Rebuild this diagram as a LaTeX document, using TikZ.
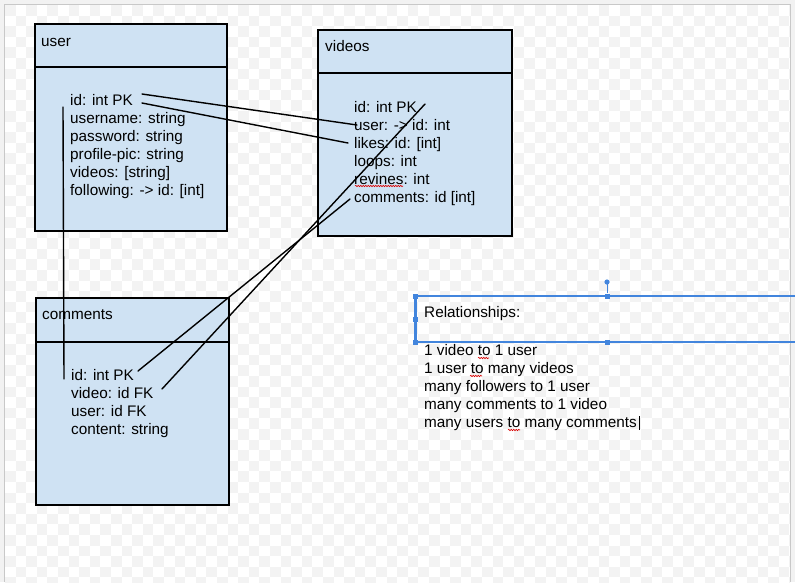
\documentclass[tikz,border=0pt]{standalone}
\usepackage{fontspec}
\setmainfont{Liberation Sans}
\usetikzlibrary{calc,decorations.pathmorphing}
\definecolor{boxblue}{RGB}{207,226,243}
\definecolor{selblue}{RGB}{66,133,221}
\definecolor{checkgrey}{RGB}{243,243,243}
\definecolor{outgrey}{RGB}{242,242,242}
\definecolor{framegrey}{RGB}{200,200,200}
\begin{document}
\begin{tikzpicture}[x=1pt,y=-1pt,
  tbl/.style={draw=black, line width=1.8pt, fill=boxblue, inner sep=0pt, anchor=north west},
  divline/.style={line width=1.8pt},
  fld/.style={anchor=base west, inner sep=0pt, font=\fontsize{15.3}{18}\selectfont},
  conn/.style={line width=1.4pt, line cap=round},
  sel/.style={draw=selblue, line width=2pt},
  handle/.style={fill=selblue, draw=none, minimum size=5pt, inner sep=0pt, rectangle},
  squig/.style={draw=red!85!black, line width=0.6pt, decorate, decoration={snake, amplitude=0.7pt, segment length=2.5pt}}]
\useasboundingbox (0,0) rectangle (795,582);
% page background
\fill[outgrey] (0,0) rectangle (795,582);
\fill[white] (5,5) rectangle (790,582);
\begin{scope}
  \clip (5,5) rectangle (790,582);
  \foreach \i in {0,2,...,74}{
    \foreach \j in {0,2,...,54}{
      \fill[checkgrey] (5+\i*10.6,5+\j*10.6) rectangle ++(10.6,10.6);
      \fill[checkgrey] (15.6+\i*10.6,15.6+\j*10.6) rectangle ++(10.6,10.6);
    }
  }
\end{scope}
\draw[framegrey, line width=1pt] (4.5,582) -- (4.5,4.5) -- (790.5,4.5) -- (790.5,582);

% tables
\node[tbl, minimum width=192pt, minimum height=207pt] (user) at (34,23) {};
\node[tbl, minimum width=194pt, minimum height=206pt] (videos) at (317,29) {};
\node[tbl, minimum width=193pt, minimum height=207pt] (comments) at (35,297) {};
\draw[divline] ($(user.north west)+(0,44)$) -- ($(user.north east)+(0,44)$);
\draw[divline] ($(videos.north west)+(0,44)$) -- ($(videos.north east)+(0,44)$);
\draw[divline] ($(comments.north west)+(0,45)$) -- ($(comments.north east)+(0,45)$);

% titles
\node[fld] (usert) at (41,46) {user};
\node[fld] (videost) at (325,51) {videos};
\node[fld] (commentst) at (42,319) {comments};

% user fields
\node[fld] (uid) at (70,105) {id: int PK};
\node[fld] (uname) at (70,123) {username: string};
\node[fld] (upass) at (70,141) {password: string};
\node[fld] (upic) at (70,159) {profile-pic: string};
\node[fld] (uvid) at (70,177) {videos: [string]};
\node[fld] (ufol) at (70,195) {following: -> id: [int]};

% videos fields
\node[fld] (vid) at (354,112) {id: int PK};
\node[fld] (vuser) at (354,130) {user: -> id: int};
\node[fld] (vlikes) at (354,148) {likes: id: [int]};
\node[fld] (vloops) at (354,166) {loops: int};
\node[fld] (vrev) at (354,184) {revines: int};
\node[fld] (vcom) at (354,202) {comments: id [int]};

% comments fields
\node[fld] (cid) at (71,380) {id: int PK};
\node[fld] (cvid) at (71,398) {video: id FK};
\node[fld] (cuser) at (71,416) {user: id FK};
\node[fld] (ccont) at (71,434) {content: string};

% relationships
\node[fld] (rtitle) at (424,317) {Relationships:};
\node[fld] (r1) at (424,355) {1 video to 1 user};
\node[fld] (r2) at (424,373) {1 user to many videos};
\node[fld] (r3) at (424,391) {many followers to 1 user};
\node[fld] (r4) at (424,409) {many comments to 1 video};
\node[fld] (r5) at (424,427) {many users to many comments};

% spell-check underlines
\draw[squig] (355,186) -- (403,186);
\draw[squig] (478,358) -- (489,358);
\draw[squig] (470,376) -- (482,376);
\draw[squig] (508,430) -- (520,430);

% connectors
\coordinate (c1a) at (142,94);  \coordinate (c1b) at (357,125);
\coordinate (c2a) at (142,103); \coordinate (c2b) at (348,143);
\coordinate (c3a) at (63,107);  \coordinate (c3b) at (64,379);
\coordinate (c4a) at (138,371); \coordinate (c4b) at (350,199);
\coordinate (c5a) at (162,389); \coordinate (c5b) at (425,104);
\draw[conn] (c1a) -- (c1b);
\draw[conn] (c2a) -- (c2b);
\draw[conn] (c3a) -- (c3b);
\draw[conn] (c4a) -- (c4b);
\draw[conn] (c5a) -- (c5b);

% selection frame of the text box
\draw[sel] (797,296) -- (415,296) -- (415,342) -- (797,342);
\draw[selblue, line width=3pt] (415,296) -- (415,342);
\node[handle] (h1) at (415,296) {};
\node[handle] (h2) at (607,296) {};
\node[handle] (h3) at (415,319) {};
\node[handle] (h4) at (415,342) {};
\node[handle] (h5) at (607,342) {};
\coordinate (rot) at (607,282);
\draw[selblue, line width=1pt] (rot) -- (h2);
\fill[selblue] (rot) circle (2.6);

% text cursor
\coordinate (cur1) at (639,416); \coordinate (cur2) at (639,430);
\draw[line width=1pt] (cur1) -- (cur2);
\end{tikzpicture}
\end{document}
